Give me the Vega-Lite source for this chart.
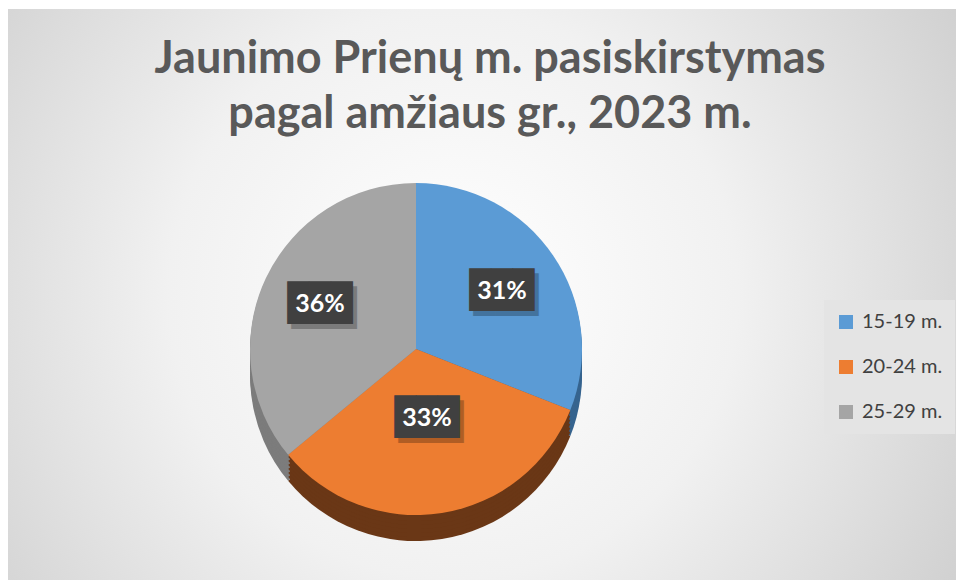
{
  "$schema": "https://vega.github.io/schema/vega-lite/v6.json",
  "width": 956,
  "height": 580,
  "autosize": {"type": "fit", "contains": "padding"},
  "padding": {"left": 8, "top": 9, "right": 0, "bottom": 0},
  "background": "#ffffff",
  "config": {"view": {"stroke": "#c8c8c8", "strokeWidth": 1}},
  "title": {
    "text": ["Jaunimo Prienų m. pasiskirstymas", "pagal amžiaus gr., 2023 m."],
    "font": "Lato",
    "fontSize": 45,
    "fontWeight": "bold",
    "color": "#595959",
    "lineHeight": 55,
    "anchor": "middle",
    "dx": 8,
    "offset": -128
  },
  "data": {
    "values": [
      {"category": "15-19 m.", "value": 31, "label": "31%"},
      {"category": "20-24 m.", "value": 33, "label": "33%"},
      {"category": "25-29 m.", "value": 36, "label": "36%"}
    ]
  },
  "layer": [
    {
      "data": {"values": [{"bg": 1}]},
      "mark": {
        "type": "rect", "x": 0, "x2": "width", "y": 0, "y2": "height",
        "color": {
          "gradient": "radial",
          "x1": 0.47, "y1": 0.5, "r1": 0,
          "x2": 0.47, "y2": 0.5, "r2": 0.75,
          "stops": [
            {"offset": 0, "color": "#ffffff"},
            {"offset": 0.4, "color": "#f1f1f1"},
            {"offset": 1, "color": "#c2c2c2"}
          ]
        }
      },
      "encoding": {}
    },
    {
      "encoding": {
        "theta": {"field": "value", "type": "quantitative", "stack": true},
        "order": {"field": "category", "sort": "ascending"}
      },
      "resolve": {"scale": {"color": "independent"}},
      "layer": [
        {"mark": {"type": "arc", "x": 408, "y": 366, "outerRadius": 166},
         "encoding": {"color": {"field": "category", "type": "nominal", "legend": null,
           "scale": {"domain": ["15-19 m.", "20-24 m.", "25-29 m."], "range": ["#36648f", "#6a3716", "#7c7c7c"]}}}},
        {"mark": {"type": "arc", "x": 408, "y": 362, "outerRadius": 166},
         "encoding": {"color": {"field": "category", "type": "nominal", "legend": null,
           "scale": {"domain": ["15-19 m.", "20-24 m.", "25-29 m."], "range": ["#36648f", "#6a3716", "#7c7c7c"]}}}},
        {"mark": {"type": "arc", "x": 408, "y": 358, "outerRadius": 166},
         "encoding": {"color": {"field": "category", "type": "nominal", "legend": null,
           "scale": {"domain": ["15-19 m.", "20-24 m.", "25-29 m."], "range": ["#36648f", "#6a3716", "#7c7c7c"]}}}},
        {"mark": {"type": "arc", "x": 408, "y": 354, "outerRadius": 166},
         "encoding": {"color": {"field": "category", "type": "nominal", "legend": null,
           "scale": {"domain": ["15-19 m.", "20-24 m.", "25-29 m."], "range": ["#36648f", "#6a3716", "#7c7c7c"]}}}},
        {"mark": {"type": "arc", "x": 408, "y": 350, "outerRadius": 166},
         "encoding": {"color": {"field": "category", "type": "nominal", "legend": null,
           "scale": {"domain": ["15-19 m.", "20-24 m.", "25-29 m."], "range": ["#36648f", "#6a3716", "#7c7c7c"]}}}},
        {"mark": {"type": "arc", "x": 408, "y": 346, "outerRadius": 166},
         "encoding": {"color": {"field": "category", "type": "nominal", "legend": null,
           "scale": {"domain": ["15-19 m.", "20-24 m.", "25-29 m."], "range": ["#36648f", "#6a3716", "#7c7c7c"]}}}},
        {"mark": {"type": "arc", "x": 408, "y": 342, "outerRadius": 166},
         "encoding": {"color": {"field": "category", "type": "nominal", "legend": null,
           "scale": {"domain": ["15-19 m.", "20-24 m.", "25-29 m."], "range": ["#36648f", "#6a3716", "#7c7c7c"]}}}},
        {"mark": {"type": "arc", "x": 408, "y": 340, "outerRadius": 166},
         "encoding": {"color": {"field": "category", "type": "nominal",
           "scale": {"domain": ["15-19 m.", "20-24 m.", "25-29 m."], "range": ["#5b9bd5", "#ed7d31", "#a5a5a5"]},
           "legend": {
             "title": null,
             "orient": "none",
             "legendX": 816,
             "legendY": 291,
             "fillColor": "#e4e4e4",
             "padding": 12,
             "symbolType": "square",
             "symbolSize": 196,
             "symbolStrokeWidth": 0,
             "labelFont": "Lato",
             "labelFontSize": 20,
             "labelColor": "#404040",
             "labelOffset": 6,
             "rowPadding": 25
           }}}},
        {"mark": {"type": "text", "x": 408, "y": 340, "dx": 4, "dy": 5, "font": "DejaVu Sans Mono", "fontSize": 36, "baseline": "middle", "color": "#000000", "opacity": 0.25},
         "encoding": {
           "radius": {"field": "value", "type": "quantitative", "scale": {"type": "linear", "zero": false, "domain": [31, 33, 36], "range": [104, 70, 106]}},
           "text": {"value": "███"}}},
        {"mark": {"type": "text", "x": 408, "y": 340, "font": "DejaVu Sans Mono", "fontSize": 36, "baseline": "middle", "color": "#404040"},
         "encoding": {
           "radius": {"field": "value", "type": "quantitative", "scale": {"type": "linear", "zero": false, "domain": [31, 33, 36], "range": [104, 70, 106]}},
           "text": {"value": "███"}}},
        {"mark": {"type": "text", "x": 408, "y": 340, "font": "Lato", "fontSize": 25, "fontWeight": "bold", "baseline": "middle", "color": "#ffffff"},
         "encoding": {
           "radius": {"field": "value", "type": "quantitative", "scale": {"type": "linear", "zero": false, "domain": [31, 33, 36], "range": [104, 70, 106]}},
           "text": {"field": "label", "type": "nominal"}}}
      ]
    }
  ]
}
